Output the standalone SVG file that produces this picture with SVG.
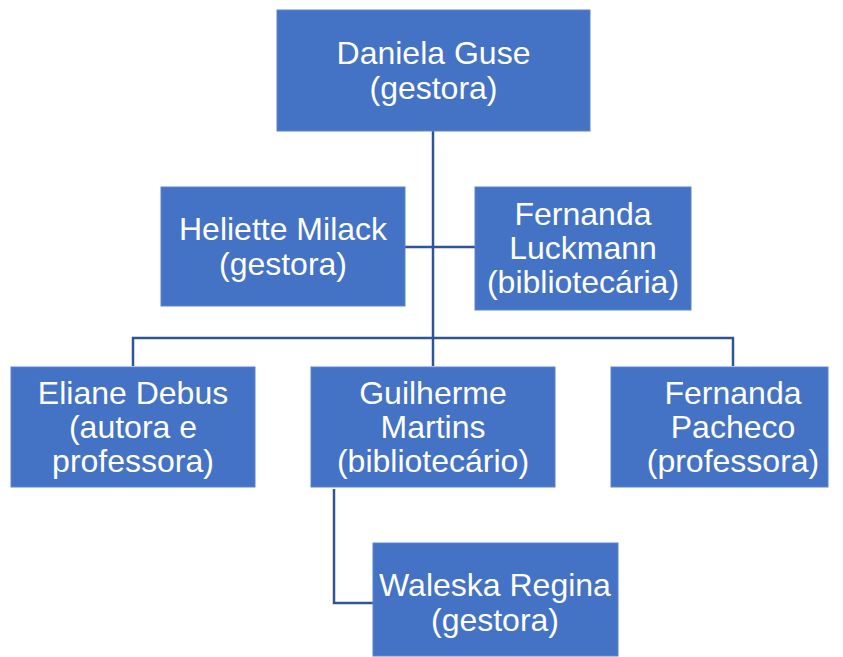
<svg xmlns="http://www.w3.org/2000/svg" width="843" height="657" viewBox="0 0 843 657">
<style>
.box{fill:#4472C4;stroke:#5B84CC;stroke-width:1}
.t{font-family:"Liberation Sans",Arial,sans-serif;font-size:32px;fill:#FFFFFF;text-anchor:middle}
.c{fill:none;stroke:#2F5597;stroke-width:2.5}
</style>
<rect width="843" height="657" fill="#FFFFFF"/>
<g id="connectors">
<path class="c" d="M433,131 V366"/>
<path class="c" d="M405,247 H475"/>
<path class="c" d="M133,366 V338 H733 V366"/>
<path class="c" d="M334,489 V603 H373"/>
</g>
<g id="daniela">
<rect class="box" x="277" y="10" width="313" height="121"/>
<text class="t" x="433.5" y="64">Daniela Guse</text>
<text class="t" x="433.5" y="99">(gestora)</text>
</g>
<g id="heliette">
<rect class="box" x="161" y="187" width="244" height="119"/>
<text class="t" x="283" y="240">Heliette Milack</text>
<text class="t" x="283" y="275">(gestora)</text>
</g>
<g id="luckmann">
<rect class="box" x="475" y="187" width="216" height="123"/>
<text class="t" x="583" y="225">Fernanda</text>
<text class="t" x="583" y="259">Luckmann</text>
<text class="t" x="583" y="293">(bibliotecária)</text>
</g>
<g id="eliane">
<rect class="box" x="11" y="367" width="244" height="120"/>
<text class="t" x="133" y="404">Eliane Debus</text>
<text class="t" x="133" y="438">(autora e</text>
<text class="t" x="133" y="472">professora)</text>
</g>
<g id="guilherme">
<rect class="box" x="311" y="367" width="244" height="120"/>
<text class="t" x="433" y="404">Guilherme</text>
<text class="t" x="433" y="438">Martins</text>
<text class="t" x="433" y="472">(bibliotecário)</text>
</g>
<g id="pacheco">
<rect class="box" x="611" y="367" width="217" height="120"/>
<text class="t" x="733" y="404">Fernanda</text>
<text class="t" x="733" y="438">Pacheco</text>
<text class="t" x="733" y="472">(professora)</text>
</g>
<g id="waleska">
<rect class="box" x="373" y="543" width="245" height="113"/>
<text class="t" x="495" y="596">Waleska Regina</text>
<text class="t" x="495" y="631">(gestora)</text>
</g>
</svg>
